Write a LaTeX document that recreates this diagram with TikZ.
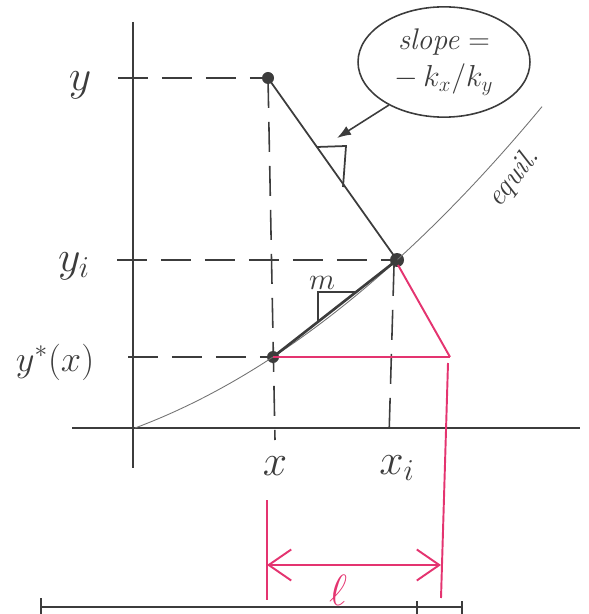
\documentclass[tikz,border=0pt]{standalone}
\usetikzlibrary{arrows.meta,shapes.geometric}
\definecolor{pinkred}{RGB}{228,52,112}
\definecolor{ink}{RGB}{60,60,60}
\begin{document}
\begin{tikzpicture}[x={(0.02cm,0)},y={(0,-0.02cm)},
  axis/.style={line width=0.9pt, ink},
  guide/.style={line width=0.9pt, ink, dash pattern=on 0.6cm off 0.28cm},
  oper/.style={line width=1pt, ink},
  thickoper/.style={line width=1.5pt, ink},
  pinkln/.style={line width=1.1pt, pinkred},
  eqcurve/.style={line width=0.5pt, black!55},
  lab/.style={font=\fontsize{24}{28}\selectfont, text=ink, inner sep=0pt},
  smalllab/.style={font=\fontsize{17}{21}\selectfont, text=ink, inner sep=0pt},
  dotst/.style={circle, fill=ink, inner sep=0pt, minimum size=0.24cm}
]
\useasboundingbox (0,0) rectangle (588,614);

% axes
\coordinate (ytop) at (133,22);
\coordinate (ybot) at (133,468);
\coordinate (xl) at (72,428);
\coordinate (xr) at (580,428);
\draw[axis] (ytop) -- (ybot);
\draw[axis] (xl) -- (xr);

% points
\node[dotst] (P) at (268,78) {};
\node[dotst, minimum size=0.28cm] (I) at (397,260) {};
\node[dotst] (S) at (273,357) {};

% guide lines
\coordinate (ya) at (118,78);
\coordinate (yia) at (117,260);
\coordinate (ysa) at (128,357);
\coordinate (xb) at (275,440);
\coordinate (xit) at (394,266);
\coordinate (xib) at (389,436);
\draw[guide] (ya) -- (P.center);
\draw[guide] (yia) -- (I.center);
\draw[guide] (ysa) -- (S.center);
\draw[guide] (P.center) -- (xb);
\draw[guide] (xit) -- (xib);

% equilibrium curve
\draw[eqcurve] plot[domain=0:407, samples=60] ({135+\x},{428-(0.3735*\x+0.001022*\x*\x)});
\node[smalllab, rotate=52] (eq) at (514,178) {\textit{equil.}};

% operating lines
\draw[oper] (P.center) -- (I.center);
\draw[thickoper] (S.center) -- (I.center);

% slope triangles
\coordinate (t1a) at (317,147);
\coordinate (t1b) at (346,146);
\coordinate (t1c) at (343,187);
\draw[oper] (t1a) -- (t1b) -- (t1c);
\coordinate (t2a) at (318,322);
\coordinate (t2b) at (318,292);
\coordinate (t2c) at (355,292);
\draw[oper] (t2a) -- (t2b) -- (t2c);
\node[font=\fontsize{19}{22}\selectfont, text=ink, inner sep=0pt] (m) at (322,283) {$m$};

% callout
\node[draw=ink, line width=0.9pt, ellipse, minimum width=3.44cm, minimum height=2.2cm,
      align=center, font=\fontsize{17}{21}\selectfont, text=ink] (callout) at (444,62)
      {\textit{slope} =\\ $-\,k_x/k_y$};
\coordinate (tip) at (337,138);
\draw[line width=0.9pt, ink, -{Latex[length=0.28cm,width=0.2cm]}] (callout.218) -- (tip);

% pink construction
\coordinate (R) at (450,357);
\coordinate (Ip) at (398,265);
\coordinate (Rb) at (448,363);
\coordinate (Rbot) at (441,598);
\draw[pinkln] (S.center) -- (R);
\draw[pinkln] (Ip) -- (R);
\draw[pinkln] (Rb) -- (Rbot);
\coordinate (Lt) at (267,500);
\coordinate (Lb) at (267,600);
\draw[pinkln] (Lt) -- (Lb);
\coordinate (al) at (267,565);
\coordinate (ar) at (441,565);
\draw[pinkln, {Straight Barb[length=0.45cm,width=0.62cm]}-{Straight Barb[length=0.45cm,width=0.62cm]}] (al) -- (ar);
\node[font=\fontsize{24}{28}\selectfont, text=pinkred, inner sep=0pt] (ell) at (338,590) {$\ell$};

% labels
\node[lab, font=\fontsize{28}{30}\selectfont] (ylab) at (80,85) {$y$};
\node[lab] (yilab) at (74,266) {$y_i$};
\node[lab, font=\fontsize{21}{24}\selectfont] (yslab) at (55,362) {$y^{*}(x)$};
\node[lab] (xlab) at (275,466) {$x$};
\node[lab] (xilab) at (397,468) {$x_i$};

% cropped bottom line
\coordinate (bl) at (41,607);
\coordinate (br) at (462,607);
\draw[axis] (bl) -- (br);
\coordinate (bt1) at (41,598);
\coordinate (bt1b) at (41,614);
\coordinate (bt2) at (417,601);
\coordinate (bt2b) at (417,614);
\coordinate (bt3) at (462,601);
\coordinate (bt3b) at (462,614);
\draw[axis] (bt1) -- (bt1b);
\draw[axis] (bt2) -- (bt2b);
\draw[axis] (bt3) -- (bt3b);
\end{tikzpicture}
\end{document}
